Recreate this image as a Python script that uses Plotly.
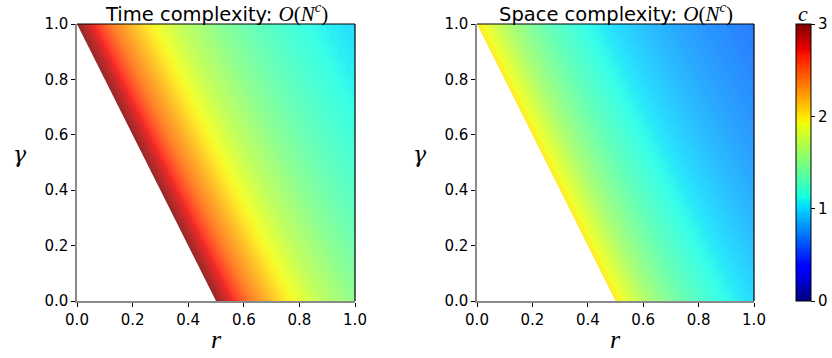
import plotly.graph_objects as go

# ---- data ----
r_vals = [0.0, 0.125, 0.25, 0.375, 0.5, 0.625, 0.75, 0.875, 1.0]
gamma_vals = [0.0, 0.25, 0.5, 0.75, 1.0]

# rows = gamma, columns = r ; None = infeasible (white) region
time_c = [
    [None, None, None, None, 3.0, 2.4, 2.0, 1.71, 1.5],
    [None, None, None, 3.0, 2.4, 2.0, 1.71, 1.5, 1.33],
    [None, None, 3.0, 2.4, 2.0, 1.71, 1.5, 1.33, 1.2],
    [None, 3.0, 2.4, 2.0, 1.71, 1.5, 1.33, 1.2, 1.09],
    [3.0, 2.4, 2.0, 1.71, 1.5, 1.33, 1.2, 1.09, 1.0],
]
space_c = [
    [None, None, None, None, 2.0, 1.6, 1.33, 1.14, 1.0],
    [None, None, None, 2.0, 1.6, 1.33, 1.14, 1.0, 0.89],
    [None, None, 2.0, 1.6, 1.33, 1.14, 1.0, 0.89, 0.8],
    [None, 2.0, 1.6, 1.33, 1.14, 1.0, 0.89, 0.8, 0.73],
    [2.0, 1.6, 1.33, 1.14, 1.0, 0.89, 0.8, 0.73, 0.67],
]
# feasibility boundary (edge of the white region)
boundary_r = [0.0, 0.5]
boundary_gamma = [1.0, 0.0]

titles = ["Time complexity: ", "Space complexity: "]
cbar_ticks = [0, 1, 2, 3]
axis_ticks = [0.0, 0.2, 0.4, 0.6, 0.8, 1.0]
axis_ticklabels = ["0.0", "0.2", "0.4", "0.6", "0.8", "1.0"]

# ---- style ----
jet = [
    [0.0, "rgb(0,0,128)"], [0.11, "rgb(0,0,255)"], [0.125, "rgb(0,0,255)"],
    [0.34, "rgb(0,219,255)"], [0.35, "rgb(0,229,247)"], [0.375, "rgb(20,255,226)"],
    [0.64, "rgb(239,255,8)"], [0.65, "rgb(247,246,0)"], [0.66, "rgb(255,236,0)"],
    [0.89, "rgb(255,19,0)"], [0.91, "rgb(232,0,0)"], [1.0, "rgb(128,0,0)"],
]
SANS = "DejaVu Sans"
SERIF = "Liberation Serif"
W, H = 832, 358
ML, MR, MT, MB = 77, 78, 24, 57
PW = W - ML - MR
PH = H - MT - MB
x_domains = [[0.0, 278 / PW], [(477 - ML) / PW, 1.0]]
y_domain = [0.0, 1.0]

fig = go.Figure()
for k, z in enumerate([time_c, space_c]):
    xa = "x" if k == 0 else "x2"
    ya = "y" if k == 0 else "y2"
    cb = None
    if k == 1:
        cb = dict(
            x=(796 - ML) / PW, xanchor="left", y=0.5, yanchor="middle",
            len=1.0, lenmode="fraction", thickness=15, xpad=0, ypad=0,
            outlinewidth=1, outlinecolor="black",
            tickvals=cbar_ticks, ticktext=[str(t) for t in cbar_ticks],
            ticks="outside", ticklen=4, tickcolor="black",
            tickfont=dict(family=SANS, size=15, color="black"),
        )
    fig.add_trace(go.Contour(
        x=r_vals, y=gamma_vals, z=z, xaxis=xa, yaxis=ya,
        colorscale=jet, zmin=0, zmax=3, opacity=0.84,
        contours=dict(start=0, end=3, size=0.02, coloring="fill", showlines=False),
        line=dict(width=0), showscale=(k == 1), colorbar=cb, hoverinfo="skip",
    ))
    # white infeasible region
    fig.add_trace(go.Scatter(
        x=[boundary_r[0], boundary_r[1], 0.0, boundary_r[0]],
        y=[boundary_gamma[0], boundary_gamma[1], 0.0, boundary_gamma[0]],
        xaxis=xa, yaxis=ya, mode="lines", fill="toself",
        fillcolor="white", line=dict(width=0, color="white"),
        showlegend=False, hoverinfo="skip",
    ))

axis_common = dict(
    range=[0, 1], tickvals=axis_ticks, ticktext=axis_ticklabels,
    ticks="outside", ticklen=4, tickcolor="black", tickwidth=1,
    showline=True, linecolor="#8a8a8a", linewidth=1.5, mirror=False,
    showgrid=False, zeroline=False,
    tickfont=dict(family=SANS, size=15, color="black"),
)
fig.update_layout(
    width=W, height=H, margin=dict(l=ML, r=MR, t=MT, b=MB, autoexpand=False),
    paper_bgcolor="white", plot_bgcolor="white", showlegend=False,
    xaxis=dict(domain=x_domains[0], anchor="y", **axis_common),
    yaxis=dict(domain=y_domain, anchor="x", **axis_common),
    xaxis2=dict(domain=x_domains[1], anchor="y2", **axis_common),
    yaxis2=dict(domain=y_domain, anchor="x2", **axis_common),
)

shapes = []
annotations = []
for k in range(2):
    xr = "x domain" if k == 0 else "x2 domain"
    yr = "y domain" if k == 0 else "y2 domain"
    shapes.append(dict(type="line", xref=xr, yref=yr, x0=0, x1=1, y0=1, y1=1,
                       line=dict(color="black", width=1.2), layer="above"))
    shapes.append(dict(type="line", xref=xr, yref=yr, x0=1, x1=1, y0=0, y1=1,
                       line=dict(color="black", width=1.2), layer="above"))
    annotations.append(dict(
        xref=xr, yref=yr, x=0.5, y=1.0, yshift=-4, xanchor="center", yanchor="bottom",
        showarrow=False,
        text=(f"<span style='font-family:{SANS};font-size:19.5px'>{titles[k]}</span>"
              f"<i>O</i>(<i>N</i><sup><i>c</i></sup>)"),
        font=dict(family=SERIF, size=21, color="black"),
    ))
    annotations.append(dict(
        xref=xr, yref=yr, x=0.5, y=0, yshift=-22, xanchor="center", yanchor="top",
        showarrow=False, text="<i>r</i>",
        font=dict(family=SERIF, size=26, color="black"),
    ))
    annotations.append(dict(
        xref=xr, yref=yr, x=0, y=0.5, xshift=-57, yshift=8,
        xanchor="center", yanchor="middle",
        showarrow=False, text="<i>γ</i>",
        font=dict(family="DejaVu Serif", size=22, color="black"),
    ))
# colorbar label
annotations.append(dict(
    xref="paper", yref="paper", x=(803.5 - ML) / PW, y=1 + 10 / PH,
    xanchor="center", yanchor="middle", showarrow=False, text="<i>c</i>",
    font=dict(family=SERIF, size=22, color="black"),
))
fig.update_layout(shapes=shapes, annotations=annotations)

# remove the browser's default 8px page margin so the figure fills the window
fig.write_html("out.html", config={"displayModeBar": False},
               post_script="document.body.style.margin='0px';")
